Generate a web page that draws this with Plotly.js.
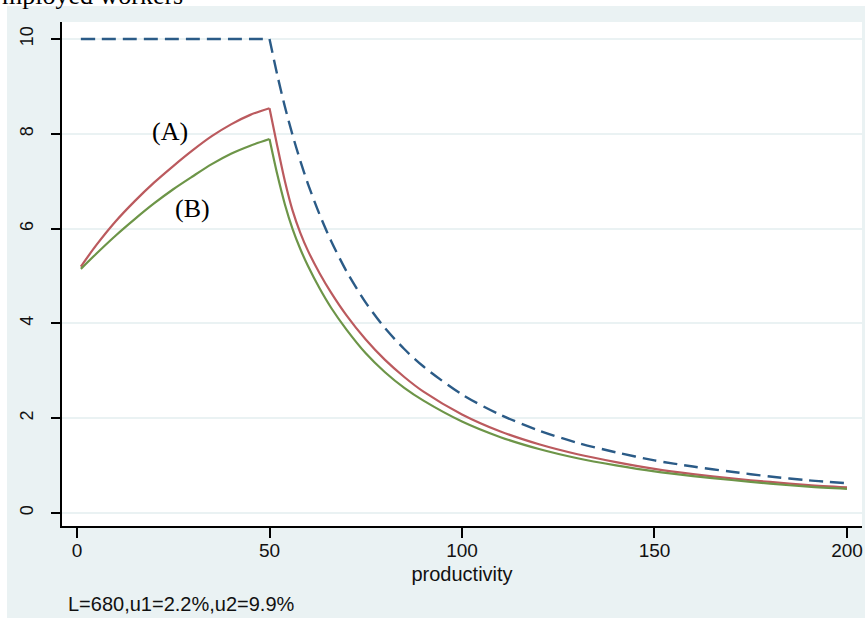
<!DOCTYPE html>
<html>
<head>
<meta charset="utf-8">
<script src="https://cdn.plot.ly/plotly-3.0.1.min.js"></script>
<style>
  html, body { margin: 0; padding: 0; background: #ffffff; }
  #chart { width: 865px; height: 618px; }
</style>
</head>
<body>
<div id="chart"></div>
<script>
// productivity grid (x values)
const productivity = [1, 5, 10, 15, 20, 25, 30, 35, 40, 45, 50, 52, 54, 56, 58, 60, 63, 66, 70, 75, 80, 85, 90, 100, 110, 120, 130, 140, 150, 160, 170, 180, 190, 200];

// dashed navy curve (upper bound)
const seriesUpper = [10, 10, 10, 10, 10, 10, 10, 10, 10, 10, 10, 9.25, 8.57, 7.97, 7.43, 6.94, 6.30, 5.74, 5.10, 4.44, 3.90, 3.46, 3.09, 2.50, 2.07, 1.74, 1.48, 1.28, 1.11, 0.98, 0.87, 0.77, 0.69, 0.63];

// (A) red curve
const seriesA = [5.20, 5.65, 6.15, 6.58, 6.97, 7.32, 7.65, 7.95, 8.20, 8.40, 8.54, 7.75, 7.00, 6.38, 5.91, 5.53, 5.06, 4.65, 4.17, 3.66, 3.23, 2.87, 2.56, 2.08, 1.72, 1.45, 1.24, 1.075, 0.93, 0.82, 0.73, 0.655, 0.59, 0.54];

// (B) green curve
const seriesB = [5.15, 5.47, 5.85, 6.20, 6.53, 6.83, 7.10, 7.36, 7.58, 7.75, 7.89, 7.15, 6.51, 5.99, 5.57, 5.21, 4.74, 4.33, 3.87, 3.37, 2.97, 2.64, 2.37, 1.93, 1.60, 1.35, 1.155, 1.005, 0.877, 0.78, 0.696, 0.618, 0.556, 0.51];

const xTickVals = [0, 50, 100, 150, 200];
const xTickText = ['0', '50', '100', '150', '200'];
const yTickVals = [0, 2, 4, 6, 8, 10];
const yTickText = ['0', '2', '4', '6', '8', '10'];

const labelA = {text: '(A)', x: 24.2, y: 8.05};
const labelB = {text: '(B)', x: 30.0, y: 6.42};

// the kink sits at productivity = 50; each curve is drawn as two smooth pieces meeting there
const kink = productivity.indexOf(50);

function pieces(ys, line) {
  return [
    {x: productivity.slice(0, kink + 1), y: ys.slice(0, kink + 1)},
    {x: productivity.slice(kink), y: ys.slice(kink)}
  ].map(p => ({x: p.x, y: p.y, type: 'scatter', mode: 'lines',
               line: Object.assign({shape: 'spline', smoothing: 0.8}, line), hoverinfo: 'skip'}));
}

const traces = [].concat(
  pieces(seriesUpper, {color: '#2b5b87', width: 2.4, dash: '14px,7px'}),
  pieces(seriesA, {color: '#bb5a5e', width: 2.2}),
  pieces(seriesB, {color: '#6d9548', width: 2.2})
);

const sansFont = 'Liberation Sans, Arial, sans-serif';
const serifFont = 'Liberation Serif, Times New Roman, serif';

const layout = {
  width: 865, height: 618,
  margin: {l: 62, r: 3, t: 22, b: 92, pad: 0},
  paper_bgcolor: '#ffffff',
  plot_bgcolor: '#ffffff',
  showlegend: false,
  xaxis: {
    range: [-3.9, 203.9],
    tickvals: xTickVals, ticktext: xTickText,
    ticks: 'outside', ticklen: 10, tickwidth: 2, tickcolor: '#000000',
    ticklabelstandoff: -4,
    showline: true, linecolor: '#000000', linewidth: 2,
    showgrid: false, zeroline: false,
    tickfont: {family: sansFont, size: 19, color: '#111111'},
    title: {text: 'productivity', font: {family: sansFont, size: 20, color: '#111111'}, standoff: 7}
  },
  yaxis: {
    range: [-0.274, 10.359],
    tickvals: yTickVals, ticktext: yTickText,
    ticks: 'outside', ticklen: 9, tickwidth: 2, tickcolor: '#000000',
    tickangle: -90,
    ticklabelstandoff: 11,
    showline: true, linecolor: '#000000', linewidth: 2,
    showgrid: true, gridcolor: '#eaf2f3', gridwidth: 2,
    zeroline: false,
    tickfont: {family: sansFont, size: 18, color: '#111111'}
  },
  shapes: [
    {type: 'rect', xref: 'paper', yref: 'paper', x0: -0.06875, x1: 1.00375, y0: -0.1825, y1: 1.0317,
     fillcolor: '#eaf2f3', line: {width: 0}, layer: 'below'},
    {type: 'rect', xref: 'paper', yref: 'paper', x0: 0, x1: 1, y0: 0, y1: 1,
     fillcolor: '#ffffff', line: {width: 0}, layer: 'below'}
  ],
  annotations: [
    {text: 'mployed workers', xref: 'paper', yref: 'paper', x: -0.0775, y: 1.019,
     xanchor: 'left', yanchor: 'bottom', showarrow: false,
     font: {family: serifFont, size: 26, color: '#000000'}},
    {text: 'L=680,u1=2.2%,u2=9.9%', xref: 'paper', yref: 'paper', x: 0.005, y: -0.1548,
     xanchor: 'left', yanchor: 'middle', showarrow: false,
     font: {family: sansFont, size: 20, color: '#111111'}},
    {text: labelA.text, x: labelA.x, y: labelA.y, xref: 'x', yref: 'y', showarrow: false,
     xanchor: 'center', yanchor: 'middle', font: {family: serifFont, size: 26, color: '#000000'}},
    {text: labelB.text, x: labelB.x, y: labelB.y, xref: 'x', yref: 'y', showarrow: false,
     xanchor: 'center', yanchor: 'middle', font: {family: serifFont, size: 26, color: '#000000'}}
  ]
};

Plotly.newPlot('chart', traces, layout, {displayModeBar: false, staticPlot: true});
</script>
</body>
</html>
